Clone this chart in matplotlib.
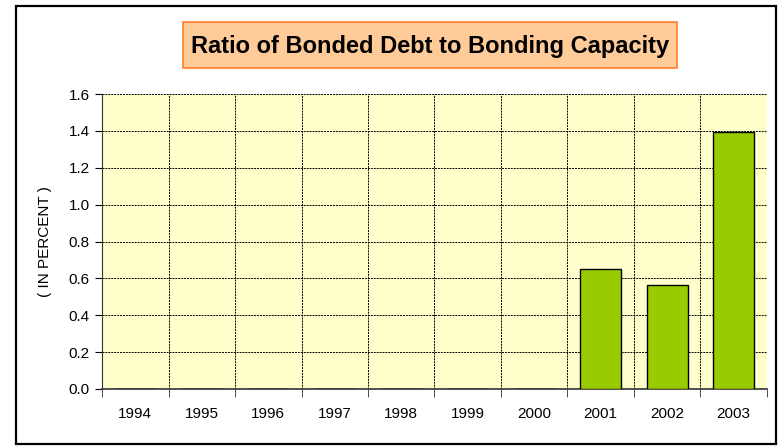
import matplotlib
matplotlib.use("Agg")
import matplotlib.pyplot as plt
from matplotlib.patches import Rectangle
import numpy as np

years = ["1994", "1995", "1996", "1997", "1998", "1999", "2000", "2001", "2002", "2003"]
ratio = [0, 0, 0, 0, 0, 0, 0, 0.653, 0.562, 1.395]
yticks = [0.0, 0.2, 0.4, 0.6, 0.8, 1.0, 1.2, 1.4, 1.6]

plt.rcParams['font.family'] = ['Liberation Sans', 'DejaVu Sans']

W, H = 778, 446
fig = plt.figure(figsize=(W / 100, H / 100), dpi=100)

# outer chart border
fig.patches.append(Rectangle((16 / W, 1 - 444 / H), 760 / W, 438 / H,
                             transform=fig.transFigure, fill=False,
                             edgecolor='black', linewidth=1.6))

# title box
fig.patches.append(Rectangle((183 / W, 1 - 68 / H), 494 / W, 46 / H,
                             transform=fig.transFigure, facecolor='#FFCC99',
                             edgecolor='#FF7F27', linewidth=1.2))
fig.text(430 / W, 1 - 46 / H, "Ratio of Bonded Debt to Bonding Capacity",
         ha='center', va='center', fontsize=17, fontweight='bold')

ax = fig.add_axes([102 / W, 1 - 389 / H, 665 / W, 295 / H])
ax.set_facecolor('#FFFFCC')

x = np.arange(len(years))
bars = ax.bar(x, ratio, width=0.62, color='#99CC00', edgecolor='black',
              linewidth=1.0, zorder=3)

ax.set_xlim(-0.5, len(years) - 0.5)
ax.set_ylim(0, 1.6)
ax.set_yticks(yticks)
ax.set_yticklabels([f"{v:.1f}" for v in yticks])
ax.set_xticks(x)
ax.set_xticklabels(years)
ax.set_xticks(np.arange(-0.5, len(years)), minor=True)

ax.tick_params(axis='x', which='major', length=0, pad=13, labelsize=11)
ax.tick_params(axis='x', which='minor', length=6, direction='out', color='#333333')
ax.tick_params(axis='y', length=5, direction='out', labelsize=11, pad=4)

ax.grid(axis='y', which='major', color='black', linestyle=(0, (2, 1)), linewidth=0.7, zorder=1)
ax.grid(axis='x', which='minor', color='black', linestyle=(0, (2, 1)), linewidth=0.7, zorder=1)
ax.grid(axis='x', which='major', visible=False)

for side in ['top', 'right']:
    ax.spines[side].set_visible(False)
ax.spines['left'].set_color('#333333')
ax.spines['bottom'].set_color('#333333')
ax.spines['bottom'].set_linewidth(1.2)

ax.set_ylabel("( IN PERCENT )", fontsize=11, labelpad=12)

fig.savefig("out.png", dpi=100)
